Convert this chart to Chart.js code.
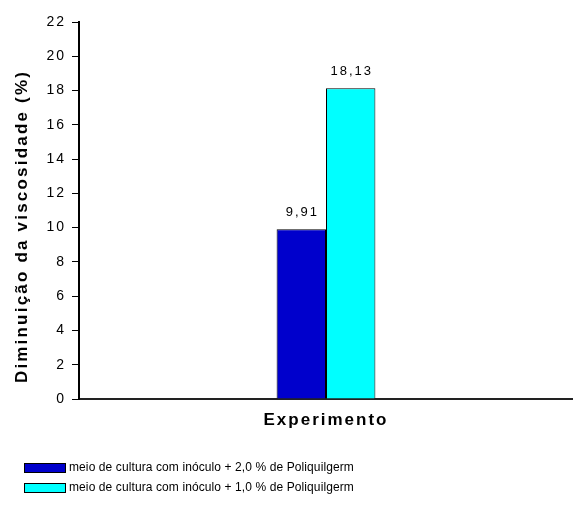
<!DOCTYPE html>
<html>
<head>
<meta charset="utf-8">
<script src="https://cdn.jsdelivr.net/npm/chart.js@4.4.1/dist/chart.umd.min.js"></script>
<style>
  html, body { margin: 0; padding: 0; background: #fff; }
  #wrap { width: 573px; height: 505px; }
</style>
</head>
<body>
<div id="wrap"><canvas id="c" width="573" height="505"></canvas></div>
<script>
const categories = ['Experimento'];
const seriesNames = [
  'meio de cultura com inóculo + 2,0 % de Poliquilgerm',
  'meio de cultura com inóculo + 1,0 % de Poliquilgerm'
];
const serie20 = [9.91];
const serie10 = [18.13];
const yTicks = [0, 2, 4, 6, 8, 10, 12, 14, 16, 18, 20, 22];
const yTitle = 'Diminuição da viscosidade (%)';

const FONT = 'Arial, "Liberation Sans", sans-serif';
const fmt = v => v.toFixed(2).replace('.', ',');

// Wide letter spacing for the axis texts drawn by the scales
const spacing = {
  id: 'spacing',
  beforeDraw(chart) { chart.ctx.letterSpacing = '2px'; },
  afterDraw(chart) { chart.ctx.letterSpacing = '0px'; }
};

// Value above each bar, rotated y title and the legend block
const annotations = {
  id: 'annotations',
  afterDraw(chart) {
    const ctx = chart.ctx;
    const area = chart.chartArea;

    // values
    ctx.save();
    ctx.letterSpacing = '2px';
    ctx.font = '13px ' + FONT;
    ctx.fillStyle = '#000';
    ctx.textAlign = 'center';
    ctx.textBaseline = 'bottom';
    chart.data.datasets.forEach((ds, i) => {
      chart.getDatasetMeta(i).data.forEach((bar, j) => {
        ctx.fillText(fmt(ds.data[j]), bar.x + 1, bar.y - 10);
      });
    });
    ctx.restore();

    // y title
    ctx.save();
    ctx.letterSpacing = '2.2px';
    ctx.font = 'bold 17px ' + FONT;
    ctx.fillStyle = '#000';
    ctx.textAlign = 'center';
    ctx.textBaseline = 'middle';
    ctx.translate(22, (area.top + area.bottom) / 2 + 16);
    ctx.rotate(-Math.PI / 2);
    ctx.fillText(yTitle, 0, 0);
    ctx.restore();

    // legend
    ctx.save();
    ctx.letterSpacing = '0.1px';
    ctx.font = '12px ' + FONT;
    ctx.textAlign = 'left';
    ctx.textBaseline = 'middle';
    chart.data.datasets.forEach((ds, i) => {
      const y = 463 + i * 20;
      ctx.fillStyle = ds.backgroundColor;
      ctx.fillRect(24, y, 42, 10);
      ctx.strokeStyle = '#000';
      ctx.lineWidth = 1;
      ctx.strokeRect(24.5, y + 0.5, 41, 9);
      ctx.fillStyle = '#000';
      ctx.fillText(ds.label, 69, y + 5);
    });
    ctx.restore();
  }
};

new Chart(document.getElementById('c'), {
  type: 'bar',
  data: {
    labels: categories,
    datasets: [
      { label: seriesNames[0], data: serie20, backgroundColor: '#0000CC', borderColor: '#000', borderWidth: 1 },
      { label: seriesNames[1], data: serie10, backgroundColor: '#00FFFF', borderColor: '#000', borderWidth: 1 }
    ]
  },
  options: {
    responsive: false,
    animation: false,
    devicePixelRatio: 1,
    layout: { padding: { left: 0, right: 0, top: 22, bottom: 66 } },
    datasets: { bar: { categoryPercentage: 0.2, barPercentage: 1.0 } },
    plugins: {
      tooltip: { enabled: false },
      legend: { display: false }
    },
    scales: {
      x: {
        grid: { display: false, drawTicks: false },
        border: { display: true, color: '#222', width: 2 },
        ticks: {
          color: '#000',
          padding: 11,
          font: { family: FONT, size: 17, weight: 'bold' }
        },
        afterFit(scale) { scale.height = 40; }
      },
      y: {
        min: 0,
        max: 22,
        afterBuildTicks(scale) { scale.ticks = yTicks.map(v => ({ value: v })); },
        grid: { drawOnChartArea: false, drawTicks: true, tickLength: 7, color: '#000' },
        border: { display: true, color: '#000', width: 2 },
        ticks: {
          color: '#000',
          padding: 6,
          font: { family: FONT, size: 14 }
        },
        afterFit(scale) { scale.width = 79; }
      }
    }
  },
  plugins: [spacing, annotations]
});
</script>
</body>
</html>
